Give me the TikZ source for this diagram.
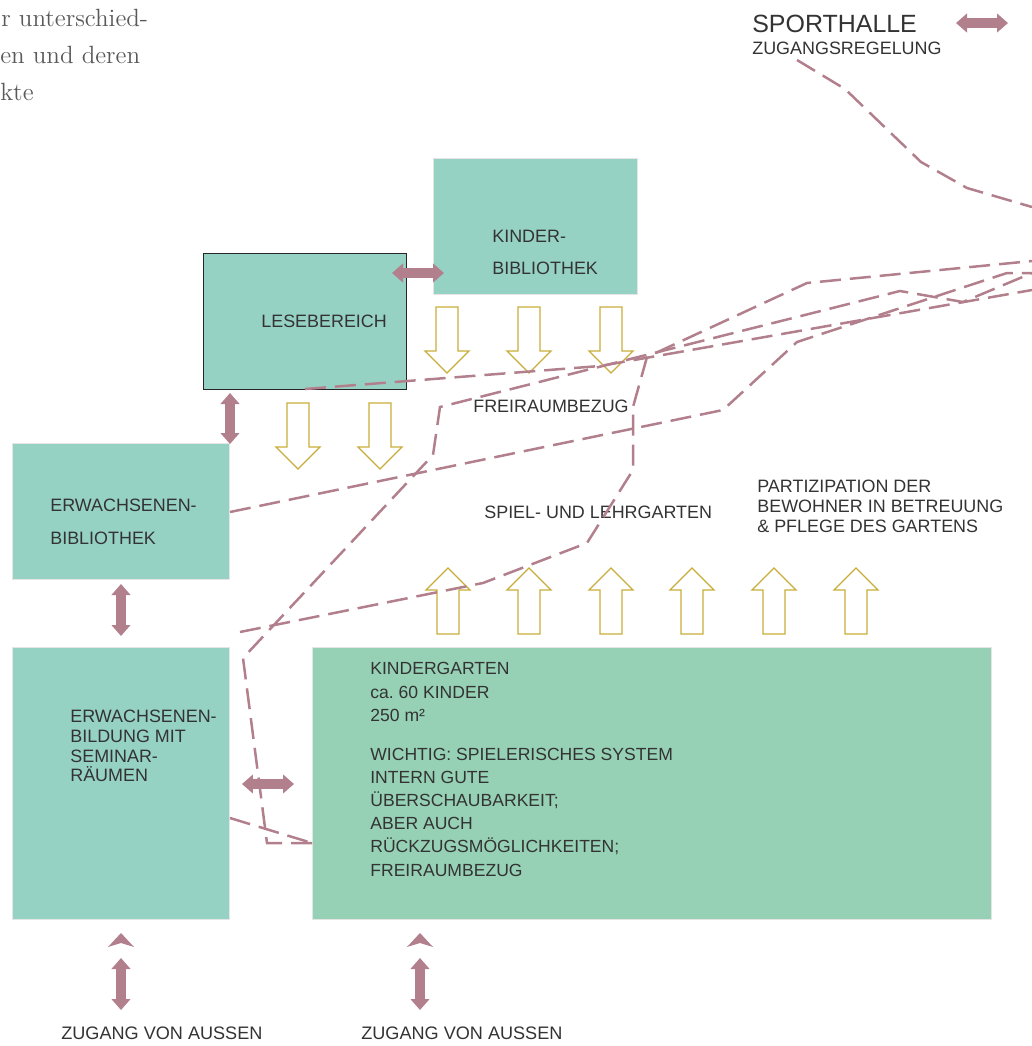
\documentclass[tikz,border=0pt]{standalone}
\usepackage{fontspec}
\newfontfamily\plansans{Liberation Sans}
\usetikzlibrary{arrows.meta}

\definecolor{raum}{HTML}{96D2C4}
\definecolor{garten}{HTML}{96D1B5}
\definecolor{weg}{HTML}{B2808C}
\definecolor{frei}{HTML}{C9AD3A}
\definecolor{schrift}{HTML}{333333}

\tikzset{
  raumbox/.style={fill=raum, draw=black!10, line width=0.3pt, inner sep=0pt, outer sep=0pt, anchor=north west},
  raumtext/.style={font=\plansans\fontsize{10.2}{18.3}\selectfont, text=schrift, inner sep=0pt, anchor=west, align=left},
  wegpfeil/.style={draw=weg, line width=0.19cm, {Triangle[width=0.37cm,length=0.22cm]}-{Triangle[width=0.37cm,length=0.22cm]}},
  weglinie/.style={draw=weg, line width=0.05cm, dash pattern=on 0.42cm off 0.18cm},
  freipfeil/.style={draw=frei, line width=0.025cm, fill=white}
}

\begin{document}
\begin{tikzpicture}[x=0.02cm, y=-0.02cm]
  \useasboundingbox (0,0) rectangle (1032,1046);

  % Block arrows (tip down / tip up)
  \def\freiab#1#2{({#1-11},#2) -- ({#1+11},#2) -- ({#1+11},{#2+44}) -- ({#1+22},{#2+44}) -- (#1,{#2+66}) -- ({#1-22},{#2+44}) -- ({#1-11},{#2+44}) -- cycle}
  \def\freiauf#1#2{({#1-11},#2) -- ({#1+11},#2) -- ({#1+11},{#2-44}) -- ({#1+22},{#2-44}) -- (#1,{#2-66}) -- ({#1-22},{#2-44}) -- ({#1-11},{#2-44}) -- cycle}

  % Text cut at the left margin
  \node[font=\fontsize{14.2}{21}\selectfont, text=black!65, inner sep=0pt, anchor=base west] (einl1) at (1,26) {r unterschied-};
  \node[font=\fontsize{14.2}{21}\selectfont, text=black!65, inner sep=0pt, anchor=base west] (einl2) at (0,63) {en und deren};
  \node[font=\fontsize{14.2}{21}\selectfont, text=black!65, inner sep=0pt, anchor=base west] (einl3) at (0,100) {kte};

  % Rooms
  \node[raumbox, minimum width=4.08cm, minimum height=2.72cm] (kinderbib) at (433,158) {};
  \node[raumbox, draw=black!85, line width=0.5pt, minimum width=4.06cm, minimum height=2.72cm] (lese) at (203,253) {};
  \node[raumbox, minimum width=4.34cm, minimum height=2.72cm] (erwbib) at (12,443) {};
  \node[raumbox, minimum width=4.34cm, minimum height=5.44cm] (erwbild) at (12,647) {};
  \node[raumbox, fill=garten, minimum width=13.58cm, minimum height=5.44cm] (kiga) at (312,647) {};

  \node[raumtext] (kinderbib-txt) at (492,252) {KINDER-\\BIBLIOTHEK};
  \node[raumtext] (lese-txt) at (261,321) {LESEBEREICH};
  \node[raumtext, font=\plansans\fontsize{10.2}{18.7}\selectfont] (erwbib-txt) at (50,522) {ERWACHSENEN-\\BIBLIOTHEK};
  \node[raumtext, font=\plansans\fontsize{10.2}{11.2}\selectfont] (erwbild-txt) at (70,746) {ERWACHSENEN-\\BILDUNG MIT\\SEMINAR-\\RÄUMEN};
  \node[raumtext, font=\plansans\fontsize{10}{13.2}\selectfont] (kiga-titel) at (370,692) {KINDERGARTEN\\ca.\ 60 KINDER\\250 m²};
  \node[raumtext, font=\plansans\fontsize{10}{13.2}\selectfont] (kiga-txt) at (370,812) {WICHTIG: SPIELERISCHES SYSTEM\\INTERN GUTE\\ÜBERSCHAUBARKEIT;\\ABER AUCH\\RÜCKZUGSMÖGLICHKEITEN;\\FREIRAUMBEZUG};

  % Garden labels
  \node[raumtext] (freiraum) at (473,406) {FREIRAUMBEZUG};
  \node[raumtext] (spielgarten) at (484,512) {SPIEL- UND LEHRGARTEN};
  \node[raumtext, font=\plansans\fontsize{10.2}{11.3}\selectfont] (partizipation) at (757,506) {PARTIZIPATION DER\\BEWOHNER IN BETREUUNG\\\& PFLEGE DES GARTENS};
  \node[raumtext, font=\plansans\fontsize{14.2}{16}\selectfont] (sporthalle) at (752,24) {SPORTHALLE};
  \node[raumtext] (zugangsregel) at (752,48) {ZUGANGSREGELUNG};
  \node[raumtext, font=\plansans\fontsize{10.3}{12}\selectfont] (zugang1) at (61,1033) {ZUGANG VON AUSSEN};
  \node[raumtext, font=\plansans\fontsize{10.3}{12}\selectfont] (zugang2) at (361,1033) {ZUGANG VON AUSSEN};

  % Freiraumbezug
  \foreach \x in {447,529,611}
    \draw[freipfeil] \freiab{\x}{307};
  \foreach \x in {298,380}
    \draw[freipfeil] \freiab{\x}{403};
  \foreach \x in {448,529,611,692,774,856}
    \draw[freipfeil] \freiauf{\x}{634};

  % Path ends
  \coordinate (lese-aus) at (305,389);
  \coordinate (erwbib-aus) at (230,512);
  \coordinate (erwbild-aus) at (230,818);
  \coordinate (kiga-ein) at (312,843);
  \coordinate (frei-start) at (240,632);
  \coordinate (sport-aus) at (797,60);
  \coordinate (rand-a) at (1032,207);
  \coordinate (rand-b) at (1032,261);
  \coordinate (rand-c) at (1032,273);
  \coordinate (rand-d) at (1032,290);

  % Dashed paths
  \draw[weglinie] (sport-aus) -- (845,89) -- (921,162) -- (967,188) -- (rand-a);
  \draw[weglinie] (lese-aus) -- (600,366) -- (rand-d);
  \draw[weglinie] (kiga-ein) -- (267,843) -- (243,658) -- (433,455) -- (440,407) -- (900,291) -- (963,302) -- (rand-c);
  \draw[weglinie] (erwbild-aus) -- (kiga-ein);
  \draw[weglinie] (frei-start) -- (483,583) -- (587,543) -- (633,470) -- (633,407) -- (647,357) -- (807,283) -- (rand-b);
  \draw[weglinie] (erwbib-aus) -- (723,410) -- (797,342) -- (1007,273) -- (rand-c);

  % Connections
  \coordinate (lk-a) at (392,273); \coordinate (lk-b) at (444,273);
  \coordinate (le-a) at (230,393); \coordinate (le-b) at (230,444);
  \coordinate (ee-a) at (121,584); \coordinate (ee-b) at (121,636);
  \coordinate (ek-a) at (242,784); \coordinate (ek-b) at (294,784);
  \coordinate (sp-a) at (956,23);  \coordinate (sp-b) at (1008,23);
  \coordinate (za-a) at (121,958); \coordinate (za-b) at (121,1010);
  \coordinate (zb-a) at (420,958); \coordinate (zb-b) at (420,1010);
  \draw[wegpfeil] (lk-a) -- (lk-b);
  \draw[wegpfeil] (le-a) -- (le-b);
  \draw[wegpfeil] (ee-a) -- (ee-b);
  \draw[wegpfeil] (ek-a) -- (ek-b);
  \draw[wegpfeil] (sp-a) -- (sp-b);
  \draw[wegpfeil] (za-a) -- (za-b);
  \draw[wegpfeil] (zb-a) -- (zb-b);
  \fill[weg] (121,933) -- (134,947) -- (121,943) -- (108,947) -- cycle;
  \fill[weg] (420,933) -- (433,947) -- (420,943) -- (407,947) -- cycle;
\end{tikzpicture}
\end{document}
